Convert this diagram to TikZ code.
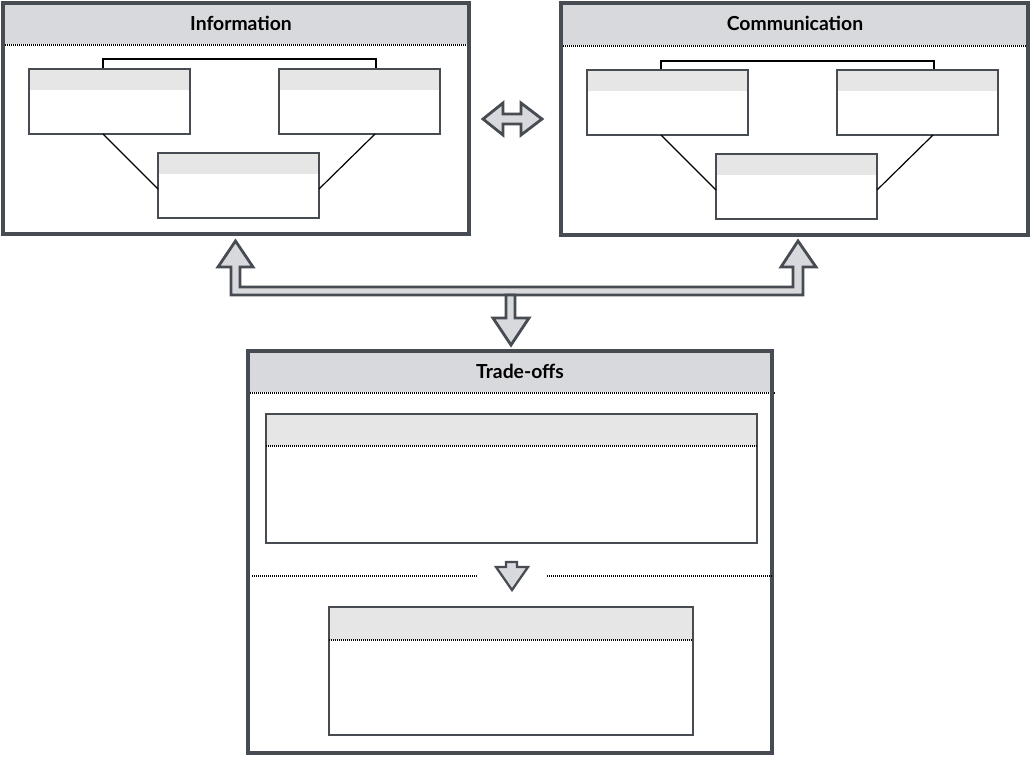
\documentclass[tikz,border=0pt]{standalone}
\usepackage{fontspec}
\setmainfont{Lato}
\usetikzlibrary{calc,fit}
\definecolor{dk}{HTML}{474B52}
\definecolor{hdr}{HTML}{D8D9DD}
\definecolor{ihdr}{HTML}{E6E6E6}
\newcommand\mkbox[4]{%
  \node[frame, fit={#2 #3}] (#1) {};
  \fill[ihdr] (#1.north west) rectangle ($(#1.north east)+(0,#4)$);
  \draw[boxborder] (#1.north west) rectangle (#1.south east);}
\begin{document}
\begin{tikzpicture}[x=0.75pt,y=-0.75pt,
  frame/.style={inner sep=0pt, outer sep=0pt, draw=none},
  panelborder/.style={draw=dk, line width=2.5pt},
  boxborder/.style={draw=dk, line width=1.7pt},
  dots/.style={draw=black, line width=1.5pt, dash pattern=on 0.75pt off 0.75pt},
  link/.style={draw=black, line width=0.9pt},
  brace/.style={draw=black, line width=1.3pt},
  hollow/.style={draw=dk, fill=hdr, line width=2.1pt, line join=miter},
  title/.style={font=\bfseries\fontsize{14.5}{17}\selectfont, text=black, inner sep=0pt}]
\fill[white] (0,0) rectangle (1030,757);
\useasboundingbox (0,0) rectangle (1030,757);

% ---------- Information panel ----------
\node[frame, fit={(3,3) (469,234)}] (info) {};
\fill[hdr] (info.north west) rectangle ($(info.north east)+(0,41)$);
\draw[dots] ($(info.north west)+(0,42)$) -- ($(info.north east)+(0,42)$);
\draw[panelborder] (info.north west) rectangle (info.south east);
\node[title] (infotitle) at (241,23) {Information};
\mkbox{il}{(29,69)}{(190,134)}{21}
\mkbox{ir}{(279,69)}{(440,134)}{21}
\mkbox{ib}{(158,153)}{(319,218)}{21}
\draw[brace] ($(il.north west)+(74,-1)$) -- ($(il.north west)+(74,-10)$) -- ($(ir.north west)+(97,-10)$) -- ($(ir.north west)+(97,-1)$);
\draw[link] ($(il.south west)+(74,0)$) -- ($(ib.north west)+(0,36)$);
\draw[link] ($(ir.south west)+(96,0)$) -- ($(ib.north east)+(0,36)$);

% ---------- Communication panel ----------
\node[frame, fit={(561,3) (1028,235)}] (comm) {};
\fill[hdr] (comm.north west) rectangle ($(comm.north east)+(0,42)$);
\draw[dots] ($(comm.north west)+(0,43)$) -- ($(comm.north east)+(0,43)$);
\draw[panelborder] (comm.north west) rectangle (comm.south east);
\node[title] (commtitle) at (795,23) {Communication};
\mkbox{cl}{(587,70)}{(748,135)}{21}
\mkbox{cr}{(837,70)}{(998,135)}{21}
\mkbox{cb}{(716,154)}{(877,219)}{21}
\draw[brace] ($(cl.north west)+(74,-1)$) -- ($(cl.north west)+(74,-9)$) -- ($(cr.north west)+(97,-9)$) -- ($(cr.north west)+(97,-1)$);
\draw[link] ($(cl.south west)+(74,0)$) -- ($(cb.north west)+(0,36)$);
\draw[link] ($(cr.south west)+(96,0)$) -- ($(cb.north east)+(0,36)$);

% ---------- double arrow between panels ----------
\draw[hollow] (483,119) -- (503,103) -- (503,114) -- (521,114) -- (521,103) -- (542,119)
  -- (521,135) -- (521,124) -- (503,124) -- (503,135) -- cycle;

% ---------- connector arrows ----------
\draw[hollow] (235.5,241) -- (218,267) -- (231,267) -- (231,295) -- (803,295) -- (803,267)
  -- (816,267) -- (798,241) -- (781,267) -- (793,267) -- (793,287) -- (240,287)
  -- (240,267) -- (253,267) -- cycle;
\draw[hollow] (506,295) -- (506,318) -- (493,318) -- (511,345) -- (529,318) -- (515,318) -- (515,295) -- cycle;

% ---------- Trade-offs panel ----------
\node[frame, fit={(248,351) (772,753)}] (trade) {};
\fill[hdr] (trade.north west) rectangle ($(trade.north east)+(0,41)$);
\draw[dots] ($(trade.north west)+(0,42)$) -- ($(trade.north east)+(4,42)$);
\draw[panelborder] (trade.north west) rectangle (trade.south east);
\node[title] (tradetitle) at (520,371) {Trade-offs};
\mkbox{ta}{(266,414)}{(757,543)}{32}
\draw[dots] ($(ta.north west)+(0,32)$) -- ($(ta.north east)+(0,32)$);
\mkbox{tb}{(329,607)}{(693,735)}{33}
\draw[dots] ($(tb.north west)+(0,33)$) -- ($(tb.north east)+(0,33)$);
\coordinate (sepl) at (252,576);
\coordinate (sepr) at (772,576);
\draw[dots] (sepl) -- (478,576);
\draw[dots] (547,576) -- (sepr);
\draw[hollow, line width=1.7pt] (506,562) -- (517,562) -- (517,567) -- (528,567) -- (512,590) -- (496,567) -- (506,567) -- cycle;
\end{tikzpicture}
\end{document}
